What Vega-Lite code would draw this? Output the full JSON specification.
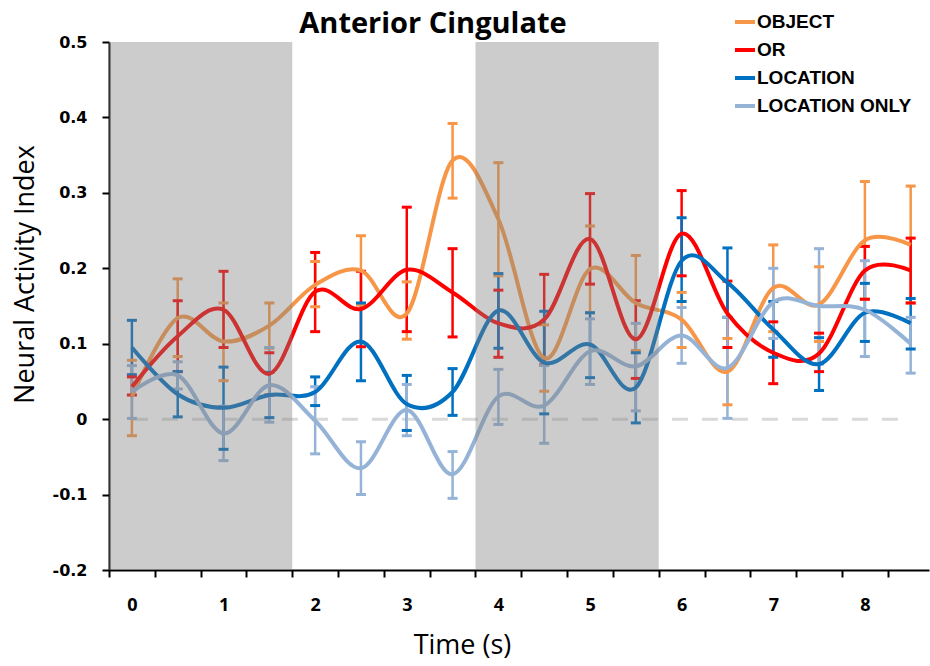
{
  "$schema": "https://vega.github.io/schema/vega-lite/v6.json",
  "width": 820,
  "height": 528,
  "autosize": {"type": "none"},
  "padding": {"left": 109, "top": 42, "right": 1, "bottom": 96},
  "background": "white",
  "title": {"text": "Anterior Cingulate", "font": "Open Sans", "fontSize": 29, "fontWeight": "bold", "color": "black", "anchor": "middle", "dx": -86, "dy": 33, "offset": 4},
  "config": {"view": {"stroke": null}, "axis": {"grid": false}},
  "datasets": {
    "d": [
      {"series": "OBJECT", "t": 0, "v": 0.03, "lo": -0.022, "hi": 0.078},
      {"series": "OBJECT", "t": 0.5, "v": 0.134, "lo": 0.083, "hi": 0.186},
      {"series": "OBJECT", "t": 1, "v": 0.103, "lo": 0.051, "hi": 0.154},
      {"series": "OBJECT", "t": 1.5, "v": 0.124, "lo": 0.094, "hi": 0.154},
      {"series": "OBJECT", "t": 2, "v": 0.178, "lo": 0.149, "hi": 0.209},
      {"series": "OBJECT", "t": 2.5, "v": 0.197, "lo": 0.151, "hi": 0.243},
      {"series": "OBJECT", "t": 3, "v": 0.14, "lo": 0.106, "hi": 0.182},
      {"series": "OBJECT", "t": 3.5, "v": 0.343, "lo": 0.293, "hi": 0.392},
      {"series": "OBJECT", "t": 4, "v": 0.265, "lo": 0.19, "hi": 0.34},
      {"series": "OBJECT", "t": 4.5, "v": 0.081, "lo": 0.037, "hi": 0.125},
      {"series": "OBJECT", "t": 5, "v": 0.199, "lo": 0.141, "hi": 0.256},
      {"series": "OBJECT", "t": 5.5, "v": 0.154, "lo": 0.091, "hi": 0.217},
      {"series": "OBJECT", "t": 6, "v": 0.132, "lo": 0.095, "hi": 0.168},
      {"series": "OBJECT", "t": 6.5, "v": 0.063, "lo": 0.019, "hi": 0.107},
      {"series": "OBJECT", "t": 7, "v": 0.174, "lo": 0.116, "hi": 0.231},
      {"series": "OBJECT", "t": 7.5, "v": 0.152, "lo": 0.103, "hi": 0.202},
      {"series": "OBJECT", "t": 8, "v": 0.237, "lo": 0.159, "hi": 0.315},
      {"series": "OBJECT", "t": 8.5, "v": 0.231, "lo": 0.154, "hi": 0.309},
      {"series": "OR", "t": 0, "v": 0.043, "lo": 0.032, "hi": 0.056},
      {"series": "OR", "t": 0.5, "v": 0.11, "lo": 0.063, "hi": 0.157},
      {"series": "OR", "t": 1, "v": 0.145, "lo": 0.095, "hi": 0.196},
      {"series": "OR", "t": 1.5, "v": 0.06, "lo": 0.032, "hi": 0.088},
      {"series": "OR", "t": 2, "v": 0.169, "lo": 0.116, "hi": 0.221},
      {"series": "OR", "t": 2.5, "v": 0.146, "lo": 0.096, "hi": 0.196},
      {"series": "OR", "t": 3, "v": 0.198, "lo": 0.116, "hi": 0.281},
      {"series": "OR", "t": 3.5, "v": 0.168, "lo": 0.109, "hi": 0.226},
      {"series": "OR", "t": 4, "v": 0.127, "lo": 0.082, "hi": 0.171},
      {"series": "OR", "t": 4.5, "v": 0.132, "lo": 0.072, "hi": 0.192},
      {"series": "OR", "t": 5, "v": 0.239, "lo": 0.179, "hi": 0.299},
      {"series": "OR", "t": 5.5, "v": 0.106, "lo": 0.054, "hi": 0.157},
      {"series": "OR", "t": 6, "v": 0.246, "lo": 0.19, "hi": 0.303},
      {"series": "OR", "t": 6.5, "v": 0.14, "lo": 0.095, "hi": 0.183},
      {"series": "OR", "t": 7, "v": 0.088, "lo": 0.047, "hi": 0.129},
      {"series": "OR", "t": 7.5, "v": 0.087, "lo": 0.063, "hi": 0.114},
      {"series": "OR", "t": 8, "v": 0.197, "lo": 0.159, "hi": 0.229},
      {"series": "OR", "t": 8.5, "v": 0.197, "lo": 0.154, "hi": 0.24},
      {"series": "LOCATION", "t": 0, "v": 0.095, "lo": 0.059, "hi": 0.131},
      {"series": "LOCATION", "t": 0.5, "v": 0.033, "lo": 0.003, "hi": 0.063},
      {"series": "LOCATION", "t": 1, "v": 0.015, "lo": -0.04, "hi": 0.069},
      {"series": "LOCATION", "t": 1.5, "v": 0.032, "lo": 0.002, "hi": 0.062},
      {"series": "LOCATION", "t": 2, "v": 0.036, "lo": 0.018, "hi": 0.056},
      {"series": "LOCATION", "t": 2.5, "v": 0.103, "lo": 0.051, "hi": 0.154},
      {"series": "LOCATION", "t": 3, "v": 0.02, "lo": -0.015, "hi": 0.058},
      {"series": "LOCATION", "t": 3.5, "v": 0.036, "lo": 0.005, "hi": 0.067},
      {"series": "LOCATION", "t": 4, "v": 0.144, "lo": 0.094, "hi": 0.193},
      {"series": "LOCATION", "t": 4.5, "v": 0.075, "lo": 0.007, "hi": 0.143},
      {"series": "LOCATION", "t": 5, "v": 0.099, "lo": 0.055, "hi": 0.141},
      {"series": "LOCATION", "t": 5.5, "v": 0.042, "lo": -0.005, "hi": 0.088},
      {"series": "LOCATION", "t": 6, "v": 0.21, "lo": 0.156, "hi": 0.267},
      {"series": "LOCATION", "t": 6.5, "v": 0.181, "lo": 0.135, "hi": 0.227},
      {"series": "LOCATION", "t": 7, "v": 0.119, "lo": 0.082, "hi": 0.156},
      {"series": "LOCATION", "t": 7.5, "v": 0.073, "lo": 0.038, "hi": 0.108},
      {"series": "LOCATION", "t": 8, "v": 0.141, "lo": 0.103, "hi": 0.18},
      {"series": "LOCATION", "t": 8.5, "v": 0.127, "lo": 0.093, "hi": 0.16},
      {"series": "LOCATION ONLY", "t": 0, "v": 0.036, "lo": 0.001, "hi": 0.071},
      {"series": "LOCATION ONLY", "t": 0.5, "v": 0.058, "lo": 0.04, "hi": 0.076},
      {"series": "LOCATION ONLY", "t": 1, "v": -0.019, "lo": -0.055, "hi": 0.017},
      {"series": "LOCATION ONLY", "t": 1.5, "v": 0.045, "lo": -0.004, "hi": 0.095},
      {"series": "LOCATION ONLY", "t": 2, "v": -0.002, "lo": -0.046, "hi": 0.043},
      {"series": "LOCATION ONLY", "t": 2.5, "v": -0.065, "lo": -0.1, "hi": -0.03},
      {"series": "LOCATION ONLY", "t": 3, "v": 0.012, "lo": -0.022, "hi": 0.046},
      {"series": "LOCATION ONLY", "t": 3.5, "v": -0.073, "lo": -0.105, "hi": -0.043},
      {"series": "LOCATION ONLY", "t": 4, "v": 0.03, "lo": -0.007, "hi": 0.066},
      {"series": "LOCATION ONLY", "t": 4.5, "v": 0.018, "lo": -0.032, "hi": 0.071},
      {"series": "LOCATION ONLY", "t": 5, "v": 0.09, "lo": 0.046, "hi": 0.133},
      {"series": "LOCATION ONLY", "t": 5.5, "v": 0.07, "lo": 0.011, "hi": 0.127},
      {"series": "LOCATION ONLY", "t": 6, "v": 0.111, "lo": 0.074, "hi": 0.148},
      {"series": "LOCATION ONLY", "t": 6.5, "v": 0.068, "lo": 0.001, "hi": 0.135},
      {"series": "LOCATION ONLY", "t": 7, "v": 0.155, "lo": 0.107, "hi": 0.2},
      {"series": "LOCATION ONLY", "t": 7.5, "v": 0.15, "lo": 0.073, "hi": 0.226},
      {"series": "LOCATION ONLY", "t": 8, "v": 0.145, "lo": 0.083, "hi": 0.21},
      {"series": "LOCATION ONLY", "t": 8.5, "v": 0.1, "lo": 0.061, "hi": 0.135}
    ],
    "shade": [
      {"start": -0.25, "end": 1.75},
      {"start": 3.75, "end": 5.75}
    ]
  },
  "layer": [
    {
      "data": {"values": [{}]},
      "mark": {"type": "rule", "color": "#D9D9D9", "strokeWidth": 3, "strokeDash": [16, 14]},
      "encoding": {
        "x": {
          "datum": 0, "type": "quantitative",
          "scale": {"domain": [-0.25, 8.7], "nice": false, "zero": false},
          "axis": {
            "values": [-0.25, 0.25, 0.75, 1.25, 1.75, 2.25, 2.75, 3.25, 3.75, 4.25, 4.75, 5.25, 5.75, 6.25, 6.75, 7.25, 7.75, 8.25],
            "labelExpr": "(datum.value + 0.25) == round(datum.value + 0.25) ? format(datum.value + 0.25, 'd') : ''",
            "labelOffset": 23, "labelOverlap": false, "labelBound": false, "labelFlush": false,
            "tickSize": 7, "tickWidth": 2, "tickColor": "black",
            "domainColor": "black", "domainWidth": 2,
            "labelFont": "Open Sans", "labelFontWeight": "bold", "labelFontSize": 18, "labelColor": "black", "labelPadding": 19,
            "title": "Time (s)", "titleFont": "Open Sans", "titleFontSize": 27, "titleFontWeight": "normal", "titleColor": "black",
            "titleX": 353, "titlePadding": 18
          }
        },
        "x2": {"datum": 8.5},
        "y": {
          "datum": 0, "type": "quantitative",
          "scale": {"domain": [-0.2, 0.5], "nice": false},
          "axis": {
            "values": [-0.2, -0.1, 0, 0.1, 0.2, 0.3, 0.4, 0.5],
            "labelExpr": "abs(datum.value) < 1e-9 ? '0' : (datum.value < 0 ? '-' + format(-datum.value, '.1f') : format(datum.value, '.1f'))",
            "tickSize": 7, "tickWidth": 2, "tickColor": "black",
            "domainColor": "black", "domainWidth": 2,
            "labelFont": "DejaVu Sans", "labelFontWeight": "bold", "labelFontSize": 16, "labelColor": "black", "labelPadding": 15,
            "title": "Neural Activity Index", "titleFont": "Open Sans", "titleFontSize": 27, "titleFontWeight": "normal", "titleColor": "black",
            "titlePadding": 13, "titleY": 232
          }
        }
      }
    },
    {
      "data": {"name": "d"},
      "mark": {"type": "rule", "strokeWidth": 2.5},
      "encoding": {
        "x": {"field": "t", "type": "quantitative"},
        "y": {"field": "lo", "type": "quantitative"},
        "y2": {"field": "hi"},
        "color": {"field": "series", "type": "nominal"}
      }
    },
    {
      "data": {"name": "d"},
      "mark": {"type": "tick", "orient": "horizontal", "size": 10, "thickness": 3, "opacity": 1},
      "encoding": {
        "x": {"field": "t", "type": "quantitative"},
        "y": {"field": "lo", "type": "quantitative"},
        "color": {"field": "series", "type": "nominal"}
      }
    },
    {
      "data": {"name": "d"},
      "mark": {"type": "tick", "orient": "horizontal", "size": 10, "thickness": 3, "opacity": 1},
      "encoding": {
        "x": {"field": "t", "type": "quantitative"},
        "y": {"field": "hi", "type": "quantitative"},
        "color": {"field": "series", "type": "nominal"}
      }
    },
    {
      "data": {"name": "d"},
      "mark": {"type": "line", "interpolate": "cardinal", "strokeWidth": 4},
      "encoding": {
        "x": {"field": "t", "type": "quantitative"},
        "y": {"field": "v", "type": "quantitative"},
        "color": {
          "field": "series", "type": "nominal",
          "scale": {"domain": ["OBJECT", "OR", "LOCATION", "LOCATION ONLY"], "range": ["#F79646", "#FF0000", "#0070C0", "#95B3D7"]},
          "legend": {
            "orient": "none", "legendX": 624, "legendY": -32, "title": null, "padding": 0,
            "symbolType": "stroke", "symbolStrokeWidth": 4, "symbolSize": 400,
            "labelFont": "Liberation Sans", "labelFontSize": 19, "labelFontWeight": "bold", "labelColor": "black",
            "labelOffset": 0, "rowPadding": 6
          }
        }
      }
    },
    {
      "data": {"name": "shade"},
      "mark": {"type": "rect", "color": "#808080", "opacity": 0.4},
      "encoding": {
        "x": {"field": "start", "type": "quantitative"},
        "x2": {"field": "end"}
      }
    }
  ]
}
